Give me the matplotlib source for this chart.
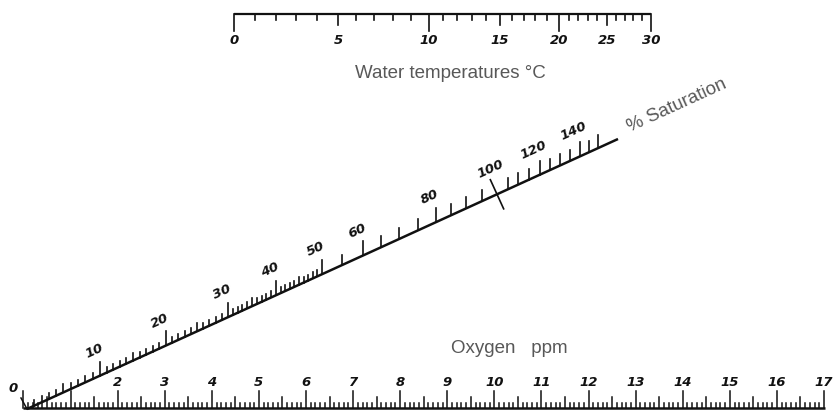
import matplotlib
matplotlib.use("Agg")
import matplotlib.pyplot as plt
import numpy as np

# temperature scale (top): labelled values and where they sit
temp_labels = [0, 5, 10, 15, 20, 25, 30]
temp_at = [234, 338, 429, 500, 559, 607, 651]

# oxygen scale (bottom): linear, 0..17 ppm
ppm_range = (0, 17)
ppm_labels = list(range(2, 18))

# % saturation scale (diagonal): reference values and their x along the line
sat_ref = [0, 10, 20, 30, 40, 50, 60, 80, 100, 120, 140, 150]
sat_at = [27, 100, 166, 228, 276, 322, 363, 436, 497, 540, 580, 598]
sat_labels = [10, 20, 30, 40, 50, 60, 80, 100, 120, 140]

W, H = 833, 411
INK = "#111111"
GREY = "#585858"
NUM = dict(color=INK, fontsize=9.5, style="italic", fontweight="bold", family="DejaVu Sans")
CAP = dict(color=GREY, fontsize=13.5, family="Liberation Sans")

fig = plt.figure(figsize=(W / 100, H / 100), dpi=100)
ax = fig.add_axes([0, 0, 1, 1])
ax.set_xlim(0, W)
ax.set_ylim(H, 0)
ax.axis("off")

# ---- top: water temperature
ty = 14
ax.plot([temp_at[0], temp_at[-1]], [ty, ty], color=INK, lw=1.6, solid_capstyle="butt")
for t in range(0, 31):
    x = np.interp(t, temp_labels, temp_at)
    L = 17 if t % 10 == 0 else (11 if t % 5 == 0 else 6)
    ax.plot([x, x], [ty, ty + L], color=INK, lw=1.2)
for t, x in zip(temp_labels, temp_at):
    ax.text(x, 40, str(t), ha="center", va="center", **NUM)
ax.text(450, 73, "Water temperatures °C", ha="center", va="center", **CAP)

# ---- bottom: oxygen ppm
by = 408
x0, x1 = 23.5, 824


def ppm_x(v):
    return x0 + (x1 - x0) * (v - ppm_range[0]) / (ppm_range[1] - ppm_range[0])


ax.plot([x0, x1 + 1], [by, by], color=INK, lw=1.8, solid_capstyle="butt")
for i in range(0, ppm_range[1] * 10 + 1):
    x = ppm_x(i / 10)
    L = 17 if i % 10 == 0 else (11 if i % 5 == 0 else 5)
    ax.plot([x, x], [by, by - L], color=INK, lw=1.1)
for v in ppm_labels:
    ax.text(ppm_x(v), 382, str(v), ha="center", va="center", **NUM)
ax.text(13, 388, "0", ha="center", va="center", **NUM)
ax.text(509, 348, "Oxygen   ppm", ha="center", va="center", **CAP)

# ---- diagonal: % saturation
p0 = np.array([27.0, 409.0])
p1 = np.array([618.0, 139.0])
slope = (p1[1] - p0[1]) / (p1[0] - p0[0])
ang = np.degrees(np.arctan2(p0[1] - p1[1], p1[0] - p0[0]))
ax.plot([p0[0], p1[0]], [p0[1], p1[1]], color=INK, lw=1.8, solid_capstyle="butt")


def line_y(x):
    return p0[1] + slope * (x - p0[0])


sat_ticks = list(range(1, 51)) + [55] + list(range(60, 151, 5))
for s in sat_ticks:
    x = np.interp(s, sat_ref, sat_at)
    y = line_y(x)
    if s == 100:
        nx, ny = np.sin(np.radians(ang)), np.cos(np.radians(ang))
        ax.plot([x - 16 * nx, x + 16 * nx], [y - 16 * ny, y + 16 * ny], color=INK, lw=1.2)
        continue
    if s <= 50:
        L = 14 if s % 10 == 0 else (8 if s % 5 == 0 else 6)
    elif s == 55:
        L = 10
    else:
        L = 14 if s in sat_labels else (13 if s == 150 else 11)
    ax.plot([x, x], [y, y - L], color=INK, lw=1.2)
# zero stroke at the common origin
ax.plot([21, 27], [398, 409], color=INK, lw=1.1)

for s in sat_labels:
    x = np.interp(s, sat_ref, sat_at)
    ax.text(x - 6, line_y(x) - 25, str(s), ha="center", va="center",
            rotation=ang, rotation_mode="anchor", **NUM)
ax.text(677, 106, "% Saturation", ha="center", va="center",
        rotation=ang, rotation_mode="anchor", **CAP)

fig.savefig("out.png", dpi=100)
